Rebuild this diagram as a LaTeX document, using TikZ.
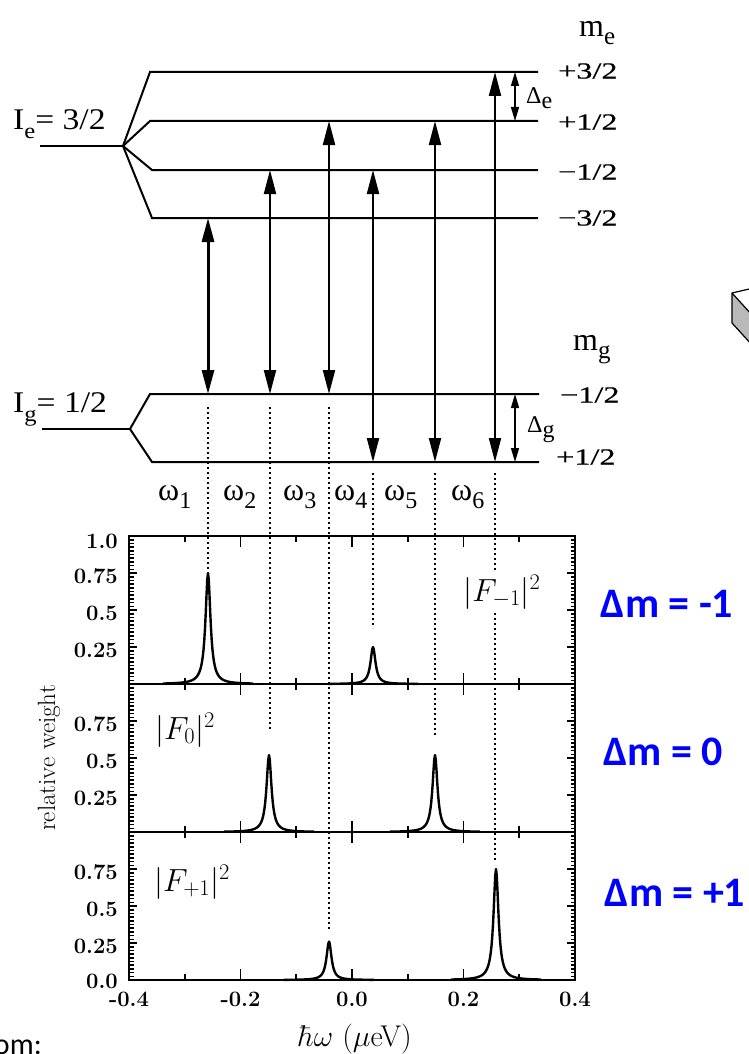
\RequirePackage{fix-cm}
\documentclass[tikz,border=0pt]{standalone}
\usepackage{fontspec}
\newfontfamily\tms{Liberation Serif}
\newfontfamily\tmsw[FakeStretch=1.4,FakeBold=0.5]{Liberation Serif}
\newfontfamily\tmsi[FakeStretch=1.12]{Liberation Serif}
\newfontfamily\slide{Carlito}
\usetikzlibrary{arrows.meta,calc}
\newcommand\low[2][.3em]{\raisebox{-#1}{#2}}
\newcommand\fs[1]{\fontsize{#1}{#1}\selectfont}
\tikzset{
  >={Triangle[length=24pt,width=12pt]},
  lvl/.style={line width=2pt},
  trans/.style={<->,line width=2pt},
  transb/.style={trans,line width=3pt},
  gap/.style={{Triangle[length=14pt,width=8pt]}-{Triangle[length=14pt,width=8pt]},line width=1.3pt},
  guide/.style={line width=2pt,dash pattern=on 2pt off 3pt},
  mlbl/.style={font=\fs{23}\tmsw,inner sep=0pt,anchor=west},
  hlbl/.style={font=\fs{30}\tmsi,inner sep=0pt,anchor=base west},
  wlbl/.style={font=\fs{32}\tms,inner sep=0pt,anchor=base west},
  frame/.style={line width=2pt},
  tick/.style={line width=1.6pt},
  peak/.style={line width=2.4pt,line join=round},
  ylbl/.style={font=\fs{22}\bfseries,inner sep=0pt,anchor=east},
  xlbl/.style={font=\fs{22}\bfseries,inner sep=0pt},
  flbl/.style={font=\fs{32},inner sep=2pt},
  dm/.style={font=\fs{42}\slide\bfseries,text=blue,inner sep=0pt},
}
\begin{document}
\begin{tikzpicture}[x=1pt,y=-1pt]
  \useasboundingbox (0,0) rectangle (748,1054);
  % level scheme
  \coordinate (efan) at (123,146);
  \coordinate (gfan) at (130,429);
  \coordinate (ep3) at (538,72);
  \coordinate (ep1) at (538,121);
  \coordinate (em1) at (538,170);
  \coordinate (em3) at (538,218);
  \coordinate (gm1) at (539,394);
  \coordinate (gp1) at (539,462);
  \draw[lvl] (40,146) -- (efan);
  \draw[lvl] (42,429) -- (gfan);
  \foreach \l/\x in {ep3/150,ep1/150,em1/152,em3/152}
    \draw[lvl] (efan) -- (\x,0 |- \l) -- (\l);
  \foreach \l/\x in {gm1/150,gp1/152}
    \draw[lvl] (gfan) -- (\x,0 |- \l) -- (\l);
  \node[hlbl] (ie) at (13,130) {I\low{\fs{22}e}= 3/2};
  \node[hlbl] (ig) at (13,412) {I\low{\fs{22}g}= 1/2};
  \node[mlbl,font=\fs{32}\tms] (me) at (579,33) {m\low[.25em]{\fs{25}e}};
  \node[mlbl,font=\fs{32}\tms] (mg) at (573,350) {m\low[.25em]{\fs{25}g}};
  \node[mlbl] at (558,71) {+3/2};
  \node[mlbl] at (558,122) {+1/2};
  \node[mlbl] at (558,172) {−1/2};
  \node[mlbl] at (558,218) {−3/2};
  \node[mlbl] at (560,395) {−1/2};
  \node[mlbl] at (556,457) {+1/2};
  \coordinate (de) at (515,0);
  \draw[gap] (de |- ep3) -- (de |- ep1);
  \draw[gap] (de |- gm1) -- (de |- gp1);
  \node[mlbl,font=\fs{24}\tms] at (526,98) {Δ\low[.2em]{e}};
  \node[mlbl,font=\fs{24}\tms] at (527,430) {Δ\low[.2em]{g}};
  \foreach \i/\x/\u/\d/\s in {1/208/em3/gm1/transb,2/270/em1/gm1/trans,
      3/329/ep1/gm1/trans,4/373/em1/gp1/trans,5/435/ep1/gp1/trans,6/495/ep3/gp1/trans}{
    \coordinate (w\i) at (\x,0);
    \draw[\s] (w\i |- \u) -- (w\i |- \d);
  }
  \foreach \i/\x in {1/158,2/223,3/283,4/334,5/384,6/451}
    \node[wlbl] (o\i) at (\x,500) {ω\low[.25em]{\fs{24}\i}};
  % spectra
  \foreach \i/\a/\b in {1/407/570,2/407/730,3/407/930,4/473/628,5/473/735,6/473/862}
    \draw[guide] ($(w\i)+(0,\a)$) -- ($(w\i)+(0,\b)$);
  \draw[frame] (129,536) rectangle (575,980);
  \draw[frame] (129,684) -- (575,684) (129,832) -- (575,832);
  \foreach \b in {684,832,980}
    \foreach \k in {1,...,39}{
      \pgfmathsetmacro\tl{mod(\k,10)==0 ? 8 : 4.5}
      \draw[tick] (129,\b-3.7*\k) -- ++(\tl,0) (575,\b-3.7*\k) -- ++(-\tl,0);
    }
  \foreach \v/\L in {-0.3/6,-0.2/11,-0.1/6,0.0/11,0.1/6,0.2/11,0.3/6}{
    \draw[tick] ({352+557.5*\v},536) -- ++(0,\L) ({352+557.5*\v},980) -- ++(0,-\L);
    \draw[tick] ({352+557.5*\v},684-\L) -- ++(0,2*\L) ({352+557.5*\v},832-\L) -- ++(0,2*\L);
  }
  \foreach \p/\h/\b in {208/0.75/684,373/0.25/684,269/0.52/832,435/0.52/832,329/0.26/980,496/0.75/980}
    \draw[peak] plot[domain=\p-45:\p+45,samples=121] (\x,{\b-148*\h/(1+((\x-\p)/3)^2)});
  \node[ylbl] at (118,541) {1.0};
  \foreach \b in {684,832,980}{
    \node[ylbl] at (118,\b-111+3) {0.75};
    \node[ylbl] at (118,\b-74+3) {0.5};
    \node[ylbl] at (118,\b-37+3) {0.25};
  }
  \node[ylbl] at (118,981) {0.0};
  \foreach \v/\t in {-0.4/-0.4,-0.2/-0.2,0.0/0.0,0.2/0.2,0.4/0.4}
    \node[xlbl] at ({352+557.5*\v},999) {\t};
  \node[font=\fs{25},rotate=90] (rw) at (49,758) {relative weight};
  \node[font=\fs{30},inner sep=0pt] (hw) at (355,1039) {$\hbar\omega$ ($\mu$eV)};
  \node[flbl,fill=white] (f1) at (502,592) {$|F_{-1}|^2$};
  \node[flbl] (f0) at (185,730) {$|F_0|^2$};
  \node[flbl] (f2) at (192,882) {$|F_{+1}|^2$};
  \node[dm] (d1) at (667,604) {Δm = -1};
  \node[dm] (d0) at (663,752) {Δm = 0};
  \node[dm] (d2) at (675,893) {Δm = +1};
  % cut-off pieces at the borders
  \filldraw[fill=gray!55,line width=1.2pt,line join=round] (732,293) -- (732,323) -- (762,356) -- (762,326) -- cycle;
  \draw[line width=1.2pt] (732,293) -- (762,286);
  \node[font=\fs{30}\slide,anchor=base east,inner sep=0pt] at (42,1054) {om:};
\end{tikzpicture}
\end{document}
